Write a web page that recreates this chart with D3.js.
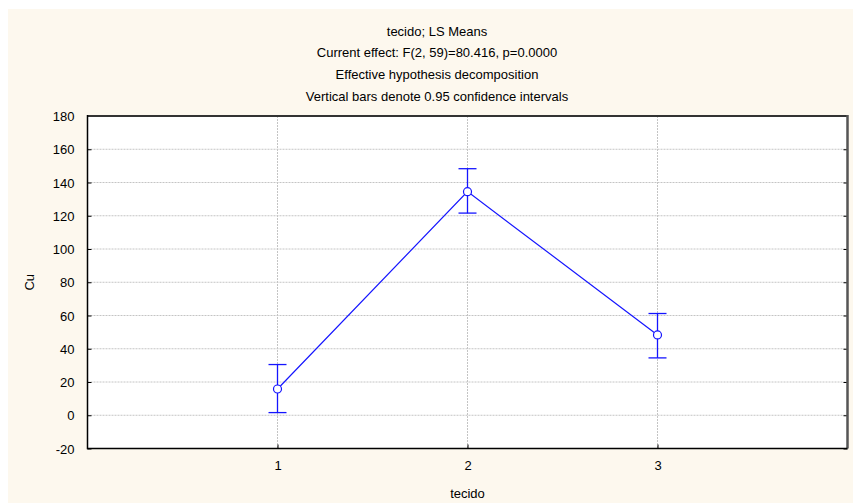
<!DOCTYPE html>
<html>
<head>
<meta charset="utf-8">
<script src="https://cdn.jsdelivr.net/npm/d3@7"></script>
<style>
  body { margin: 0; background: #fff; }
  text { font-family: Arial, "Liberation Sans", sans-serif; fill: #000; }
</style>
</head>
<body>
<svg id="chart" width="853" height="503"></svg>
<script>
// data
var categories = [1, 2, 3];
var means = [15.8, 134.5, 48.3];
var upper = [30.5, 148.3, 61.2];
var lower = [1.6, 121.6, 34.5];
var yTicks = [-20, 0, 20, 40, 60, 80, 100, 120, 140, 160, 180];
var titleLines = [
  "tecido; LS Means",
  "Current effect: F(2, 59)=80.416, p=0.0000",
  "Effective hypothesis decomposition",
  "Vertical bars denote 0.95 confidence intervals"
];

var svg = d3.select("#chart"),
    margin = {top: 116, right: 5.5, bottom: 54.5, left: 87.5},
    width = +svg.attr("width") - margin.left - margin.right,
    height = +svg.attr("height") - margin.top - margin.bottom;

svg.append("rect")
    .attr("x", 8).attr("y", 9)
    .attr("width", 845).attr("height", 494)
    .attr("fill", "#fdf8ee");

var x = d3.scaleLinear().domain([0, 4]).range([0, width]),
    y = d3.scaleLinear().domain([-20, 180]).range([height, 0]);

var g = svg.append("g").attr("transform", "translate(" + margin.left + "," + margin.top + ")");

g.append("rect")
    .attr("width", width).attr("height", height)
    .attr("fill", "#fff");

// grid
g.append("g").selectAll("line")
  .data(yTicks.slice(1, -1))
  .enter().append("line")
    .attr("x1", 0).attr("x2", width)
    .attr("y1", function(d) { return y(d); })
    .attr("y2", function(d) { return y(d); })
    .attr("stroke", "#c4c4c4")
    .attr("stroke-dasharray", "2,1");

g.append("g").selectAll("line")
  .data(categories)
  .enter().append("line")
    .attr("x1", function(d) { return x(d); })
    .attr("x2", function(d) { return x(d); })
    .attr("y1", 0).attr("y2", height)
    .attr("stroke", "#c4c4c4")
    .attr("stroke-dasharray", "2,1");

// axes
var yAxis = g.append("g")
    .call(d3.axisLeft(y).tickValues(yTicks).tickSize(-4).tickPadding(13)
      .tickFormat(function(d) { return String(d); }));
yAxis.select(".domain").remove();
yAxis.selectAll("text").style("font-size", "13px").attr("dy", "0.36em");

var yAxisRight = g.append("g")
    .attr("transform", "translate(" + width + ",0)")
    .call(d3.axisRight(y).tickValues(yTicks).tickSize(-4).tickFormat(""));
yAxisRight.select(".domain").remove();

var xAxis = g.append("g")
    .attr("transform", "translate(0," + height + ")")
    .call(d3.axisBottom(x).tickValues(categories).tickSize(-4).tickPadding(12).tickFormat(d3.format("d")));
xAxis.select(".domain").remove();
xAxis.selectAll("text").style("font-size", "13px");

// frame
g.append("line").attr("x1", 0).attr("x2", width).attr("y1", 0).attr("y2", 0)
    .attr("stroke", "#333").attr("stroke-width", 2);
g.append("line").attr("x1", width).attr("x2", width).attr("y1", -1).attr("y2", height)
    .attr("stroke", "#555").attr("stroke-width", 2.5);
g.append("line").attr("x1", 0).attr("x2", 0).attr("y1", -1).attr("y2", height + 0.75)
    .attr("stroke", "#000").attr("stroke-width", 1.5);
g.append("line").attr("x1", 0).attr("x2", width).attr("y1", height).attr("y2", height)
    .attr("stroke", "#000").attr("stroke-width", 1.5);

// error bars
var bars = g.append("g").selectAll("g")
  .data(categories)
  .enter().append("g")
    .attr("stroke", "#1515ff")
    .attr("stroke-width", 1.3);

bars.append("line")
    .attr("x1", function(d) { return x(d); })
    .attr("x2", function(d) { return x(d); })
    .attr("y1", function(d, i) { return y(upper[i]); })
    .attr("y2", function(d, i) { return y(lower[i]); });
bars.append("line")
    .attr("x1", function(d) { return x(d) - 9; })
    .attr("x2", function(d) { return x(d) + 9; })
    .attr("y1", function(d, i) { return y(upper[i]); })
    .attr("y2", function(d, i) { return y(upper[i]); });
bars.append("line")
    .attr("x1", function(d) { return x(d) - 9; })
    .attr("x2", function(d) { return x(d) + 9; })
    .attr("y1", function(d, i) { return y(lower[i]); })
    .attr("y2", function(d, i) { return y(lower[i]); });

// mean line
var line = d3.line()
    .x(function(d) { return x(d); })
    .y(function(d, i) { return y(means[i]); });

g.append("path")
    .datum(categories)
    .attr("d", line)
    .attr("fill", "none")
    .attr("stroke", "#1515ff")
    .attr("stroke-width", 1.2);

g.append("g").selectAll("circle")
  .data(categories)
  .enter().append("circle")
    .attr("cx", function(d) { return x(d); })
    .attr("cy", function(d, i) { return y(means[i]); })
    .attr("r", 4)
    .attr("fill", "#fff")
    .attr("stroke", "#1515ff")
    .attr("stroke-width", 1.2);

// titles
svg.append("g").selectAll("text")
  .data(titleLines)
  .enter().append("text")
    .attr("x", 437)
    .attr("y", function(d, i) { return 31 + i * 21.7; })
    .attr("dy", "0.35em")
    .attr("text-anchor", "middle")
    .style("font-size", "13px")
    .text(function(d) { return d; });

svg.append("text")
    .attr("x", margin.left + width / 2)
    .attr("y", 493)
    .attr("dy", "0.35em")
    .attr("text-anchor", "middle")
    .style("font-size", "13px")
    .text("tecido");

svg.append("text")
    .attr("transform", "translate(29," + (margin.top + height / 2) + ") rotate(-90)")
    .attr("dy", "0.35em")
    .attr("text-anchor", "middle")
    .style("font-size", "13px")
    .text("Cu");
</script>
</body>
</html>
